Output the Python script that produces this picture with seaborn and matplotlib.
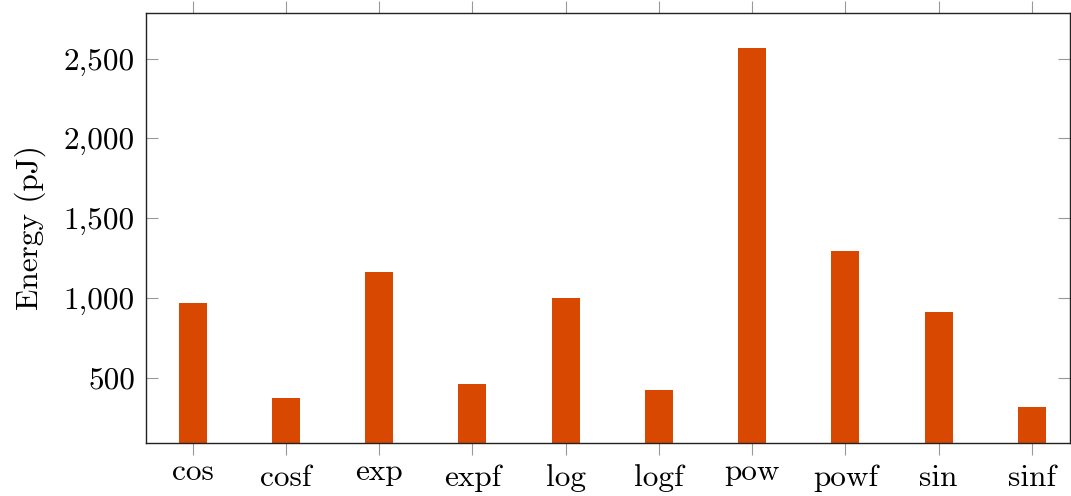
import matplotlib
matplotlib.use("Agg")
import matplotlib.pyplot as plt
import matplotlib.transforms as mtransforms
from matplotlib.ticker import FuncFormatter, FixedLocator
import seaborn as sns

categories = ["cos", "cosf", "exp", "expf", "log", "logf", "pow", "powf", "sin", "sinf"]
energy_pj = [969, 370, 1161, 460, 997, 421, 2564, 1296, 911, 317]
y_ticks = [500, 1000, 1500, 2000, 2500]

sns.set_theme(style="white")
plt.rcParams["font.family"] = ["cmr10", "DejaVu Serif"]
plt.rcParams["axes.formatter.use_mathtext"] = True
plt.rcParams["text.color"] = "black"
plt.rcParams["axes.labelcolor"] = "black"
plt.rcParams["xtick.labelcolor"] = "black"
plt.rcParams["ytick.labelcolor"] = "black"

fig = plt.figure(figsize=(10.71, 4.96), dpi=100)
ax = fig.add_axes([146 / 1071, 1 - 443 / 496, (1070 - 146) / 1071, (443 - 13) / 496])

sns.barplot(x=categories, y=energy_pj, color="#D94801", saturation=1, width=0.3,
            linewidth=0, ax=ax)

ax.set_xlim(-0.5, 9.41)
ax.set_ylim(91, 2786)
ax.yaxis.set_major_locator(FixedLocator(y_ticks))
ax.yaxis.set_major_formatter(FuncFormatter(lambda v, p: f"{v:,.0f}"))

fs = 22.5
ax.set_ylabel("Energy (pJ)", fontsize=fs, labelpad=13, color="black")
ax.set_xlabel("")
ax.tick_params(axis="y", direction="in", length=8.5, width=0.8, color="#999999",
               labelsize=fs, labelcolor="black", pad=8, left=True, right=True)
ax.tick_params(axis="x", direction="out", length=8.5, width=0.8, color="#999999",
               labelsize=fs, labelcolor="black", pad=7, bottom=True, top=True)

for s in ax.spines.values():
    s.set_color("#222222")
    s.set_linewidth(1.0)

# pgfplots anchors tick labels at their top: labels without ascenders sit higher
offset = mtransforms.ScaledTranslation(0, 6 / 100, fig.dpi_scale_trans)
for lab in ax.get_xticklabels():
    if lab.get_text() in ("cos", "exp", "pow"):
        lab.set_transform(lab.get_transform() + offset)

fig.savefig("out.png", dpi=100)
